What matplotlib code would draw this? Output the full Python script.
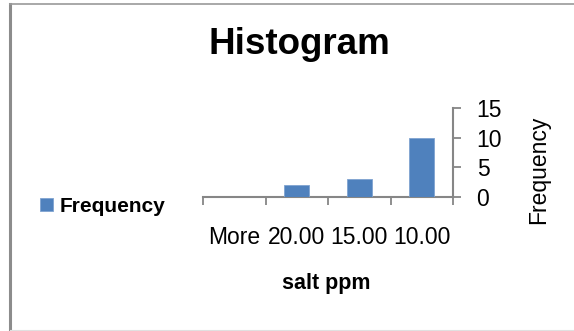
import matplotlib
matplotlib.use("Agg")
import matplotlib.pyplot as plt
from matplotlib.lines import Line2D
import numpy as np

categories = ["More", "20.00", "15.00", "10.00"]
frequency = [0, 2, 3, 10]
y_ticks = [0, 5, 10, 15]

plt.rcParams['font.family'] = ['Liberation Sans', 'DejaVu Sans']

W, H = 574, 331
fig = plt.figure(figsize=(W / 100, H / 100), dpi=100)

axis_color = "#868686"
bar_color = "#4F81BD"

ax = fig.add_axes([203 / W, 1 - 197 / H, (453 - 203) / W, (197 - 108) / H])
x = np.arange(len(categories))
bars = ax.bar(x, frequency, width=0.4, color=bar_color, edgecolor="#7FA3D0",
              linewidth=0.6, label="Frequency", zorder=3)

ax.set_xlim(-0.5, len(categories) - 0.5)
ax.set_ylim(0, 15)

for s in ["left", "top"]:
    ax.spines[s].set_visible(False)
for s in ["right", "bottom"]:
    ax.spines[s].set_color(axis_color)
    ax.spines[s].set_linewidth(1.5)

# x: boundaries as major ticks, labels at centers as minor ticks
ax.set_xticks(np.arange(-0.5, len(categories), 1.0))
ax.set_xticklabels([])
ax.set_xticks(x, minor=True)
ax.set_xticklabels(categories, minor=True, fontsize=16.5, color="black")
ax.tick_params(axis="x", which="major", direction="out", length=6,
               width=1.3, color=axis_color)
ax.tick_params(axis="x", which="minor", length=0, pad=21)

ax.yaxis.tick_right()
ax.set_yticks(y_ticks)
ax.set_yticklabels([str(v) for v in y_ticks], fontsize=16.5)
ax.tick_params(axis="y", direction="out", length=6, width=1.3,
               color=axis_color, pad=11)

fig.text(299 / W, 1 - 45 / H, "Histogram", fontsize=26.5, fontweight="bold",
         ha="center", va="center")
fig.text(326 / W, 1 - 283 / H, "salt ppm", fontsize=15.5, fontweight="bold",
         ha="center", va="center")
fig.text(539 / W, 1 - 170 / H, "Frequency", fontsize=16.5, rotation=90,
         ha="center", va="center")

fig.legend(handles=[bars], labels=["Frequency"], loc="center left",
           bbox_to_anchor=(32 / W, 1 - 206 / H), frameon=False,
           prop={"size": 15, "weight": "bold"}, handlelength=0.6,
           handleheight=0.6, handletextpad=0.35, borderaxespad=0)

# figure border
fig.add_artist(Line2D([10 / W, 10 / W], [0, 1 - 3.5 / H], transform=fig.transFigure,
                      color="#8c8c8c", linewidth=2.2))
fig.add_artist(Line2D([10 / W, 1], [1 - 3.5 / H, 1 - 3.5 / H], transform=fig.transFigure,
                      color="#9a9a9a", linewidth=1.2))
fig.add_artist(Line2D([10 / W, 1], [1 - 330 / H, 1 - 330 / H], transform=fig.transFigure,
                      color="#e0e0e0", linewidth=0.8))

fig.savefig("out.png", dpi=100)
